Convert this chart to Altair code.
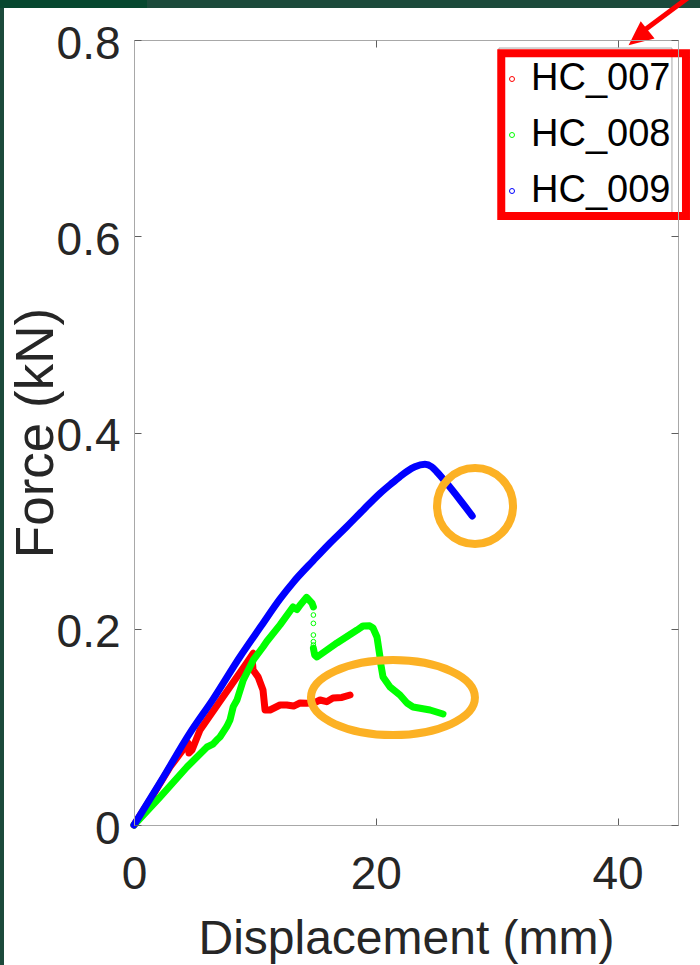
import altair as alt
import pandas as pd

# ---------------- data ----------------
SERIES = ["HC_007", "HC_008", "HC_009"]
SERIES_COLORS = ["#ff0000", "#00ff00", "#0000ff"]

hc007_disp = [0, 1.5, 2.98, 4.47, 4.55, 4.80, 5.46, 7.11, 8.21, 9.32,
              9.87, 9.80, 9.85, 10.26, 10.67, 10.84, 11.25, 12.08, 12.63, 13.20,
              13.73, 14.28, 14.90, 15.39, 15.94, 16.46, 17.20, 17.87]
hc007_force = [0, 0.029, 0.0591, 0.0836, 0.0734, 0.0764, 0.0968, 0.1262, 0.1455, 0.1650,
               0.1750, 0.165, 0.158, 0.151, 0.1376, 0.1172, 0.1172, 0.1223, 0.1223, 0.1212,
               0.1243, 0.1240, 0.1245, 0.1274, 0.1257, 0.1294, 0.1300, 0.1325]

hc008_disp_a = [0, 2.15, 4.38, 6.04, 6.53, 6.84, 7.11, 7.67, 7.94, 8.21, 8.52, 9.04,
                9.87, 10.67, 10.98, 12.08, 13.15, 13.48, 13.73, 14.28, 14.72, 14.84]
hc008_force_a = [0, 0.0285, 0.0591, 0.0795, 0.0825, 0.0866, 0.0897, 0.1002, 0.1070, 0.1206, 0.1274, 0.1478,
                 0.1682, 0.1814, 0.1870, 0.2040, 0.2222, 0.2195, 0.2240, 0.2320, 0.2262, 0.2222]
hc008_disp_gap = [14.84, 14.84, 14.84, 14.84, 14.84]
hc008_force_gap = [0.2140, 0.2055, 0.1936, 0.1868, 0.1834]
hc008_disp_b = [14.84, 14.95, 15.14, 16.79, 18.45, 18.94, 19.50, 19.77, 20.10, 20.35,
                20.40, 20.60, 21.18, 22.00, 22.58, 23.08, 24.49, 25.56]
hc008_force_b = [0.1800, 0.1732, 0.1712, 0.1855, 0.1987, 0.2028, 0.2030, 0.2008, 0.1916, 0.1712,
                 0.1651, 0.1508, 0.1406, 0.1325, 0.1243, 0.1203, 0.1172, 0.1131]

hc009_disp = [0, 2.3, 4.63, 6.53, 8.77, 10.5, 12.08, 13.18, 14.83, 16.2, 17.59, 19.0,
              20.35, 21.3, 22.0, 22.6, 23.24, 24.07, 24.62, 25.04, 25.87, 26.97, 27.98]
hc009_force = [0, 0.046, 0.0938, 0.128, 0.1715, 0.2025, 0.2305, 0.2475, 0.2695, 0.2872, 0.3040, 0.3216,
               0.3380, 0.3480, 0.3550, 0.3605, 0.3651, 0.3676, 0.3651, 0.3600, 0.3482, 0.3312, 0.3149]

X_TICKS = [0, 20, 40]
Y_TICKS = [0, 0.2, 0.4, 0.6, 0.8]

# annotation anchors (data units)
CIRCLE_AT = (28.21, 0.3251)
ELLIPSE_AT = (21.42, 0.1299)
LEGEND_BOX = (30.19, 44.50, 0.7918, 0.6227)
RED_BOX = (30.38, 45.66, 0.7865, 0.6206)
ARROW_SHAFT = (47.70, 0.8603, 42.02, 0.8081)
ARROW_HEAD = (41.70, 0.8024)

# ---------------- build tables ----------------
rows = []
def add(series, part, xs, ys):
    for x, y in zip(xs, ys):
        rows.append({"series": series, "part": part, "i": len(rows), "x": x, "y": y})

add("HC_007", "r", hc007_disp, hc007_force)
add("HC_008", "ga", hc008_disp_a, hc008_force_a)
add("HC_008", "gb", hc008_disp_b, hc008_force_b)
df = pd.DataFrame(rows)
rows = []
add("HC_009", "b", hc009_disp, hc009_force)
df_blue = pd.DataFrame(rows)
gap_df = pd.DataFrame({"x": hc008_disp_gap, "y": hc008_force_gap})

W, H = 544, 785
FONT = "Liberation Sans"
TXT = "#262626"
BOX_C = "#a8a8a8"
TICK_C = "#5e5e5e"
ORANGE = "#fcb124"

xs = alt.Scale(domain=[0, 45], nice=False, zero=False)
ys = alt.Scale(domain=[0, 0.8], nice=False, zero=False)
cs = alt.Scale(domain=SERIES, range=SERIES_COLORS)


def tick_axis(orient, vals):
    return alt.Axis(orient=orient, values=vals, offset=-7, domain=False, labels=False,
                    ticks=True, tickSize=7, tickColor=TICK_C, tickWidth=1, grid=False,
                    title=None, zindex=1)


def frame_axis(orient):
    return alt.Axis(orient=orient, domain=True, domainColor=BOX_C, domainWidth=1,
                    labels=False, ticks=False, grid=False, title=None, zindex=1)


one = pd.DataFrame({"a": [0]})

# page decoration: white sheet on dark green slide
sheet = alt.Chart(one).mark_rect(color="white").encode(
    x=alt.value(-130), x2=alt.value(566), y=alt.value(-32), y2=alt.value(925))
strip = alt.Chart(one).mark_rect(color="#07472f").encode(
    x=alt.value(-134), x2=alt.value(13), y=alt.value(-40), y2=alt.value(-32))

legend_box = alt.Chart(pd.DataFrame({"x": [LEGEND_BOX[0]], "x2": [LEGEND_BOX[1]],
                                     "y": [LEGEND_BOX[2]], "y2": [LEGEND_BOX[3]]})).mark_rect(
    fill="white", stroke=BOX_C, strokeWidth=1).encode(
    x=alt.X("x:Q", scale=xs, axis=tick_axis("bottom", X_TICKS)),
    x2="x2:Q",
    y=alt.Y("y:Q", scale=ys, axis=tick_axis("left", Y_TICKS)),
    y2="y2:Q")

lines = alt.Chart(df).mark_line(strokeWidth=7, strokeCap="round", strokeJoin="round").encode(
    x=alt.X("x:Q", scale=xs, axis=alt.Axis(
        orient="bottom", values=X_TICKS, title="Displacement (mm)", ticks=False,
        domain=True, domainColor=BOX_C, grid=False, labelFont=FONT, labelFontSize=46,
        labelColor=TXT, labelPadding=27, labelFlush=False, labelOverlap=False,
        titleFont=FONT, titleFontSize=48, titleFontWeight="normal", titleColor=TXT,
        titleY=128, titleBaseline="alphabetic", zindex=1)),
    y=alt.Y("y:Q", scale=ys, axis=alt.Axis(
        orient="left", values=Y_TICKS, format=".1~f", title="Force (kN)", ticks=False,
        domain=True, domainColor=BOX_C, grid=False, labelFont=FONT, labelFontSize=46,
        labelColor=TXT, labelPadding=14, labelOffset=4, labelFlush=False, labelOverlap=False,
        titleFont=FONT, titleFontSize=53, titleFontWeight="normal", titleColor=TXT,
        titleX=-82, titleBaseline="alphabetic", zindex=1)),
    color=alt.Color("series:N", scale=cs,
                    legend=alt.Legend(title=None, orient="none", legendX=352, legendY=13,
                                      labelFont=FONT, labelFontSize=38, labelColor="black",
                                      symbolType="circle", symbolSize=25, symbolStrokeWidth=1,
                                      symbolFillColor="white", padding=7, rowPadding=18,
                                      labelOffset=0)),
    detail="part:N",
    order="i:Q",
)

blue = alt.Chart(df_blue).mark_line(strokeWidth=7, strokeCap="round", strokeJoin="round",
                                    interpolate="monotone").encode(
    x=alt.X("x:Q", scale=xs, axis=None),
    y=alt.Y("y:Q", scale=ys, axis=None),
    color=alt.Color("series:N", scale=cs),
    order="i:Q",
)

dots = alt.Chart(gap_df).mark_point(shape="circle", filled=False, size=22, color="#00ff00",
                                    strokeWidth=1, opacity=1).encode(
    x=alt.X("x:Q", scale=xs, axis=frame_axis("top")),
    y=alt.Y("y:Q", scale=ys, axis=frame_axis("right")))

circle = alt.Chart(pd.DataFrame({"x": [CIRCLE_AT[0]], "y": [CIRCLE_AT[1]]})).mark_point(
    shape="circle", size=5776, filled=False, color=ORANGE, strokeWidth=8, opacity=1).encode(
    x=alt.X("x:Q", scale=xs, axis=None), y=alt.Y("y:Q", scale=ys, axis=None))

ellipse = alt.Chart(pd.DataFrame({"x": [ELLIPSE_AT[0]], "y": [ELLIPSE_AT[1]]})).mark_point(
    shape="M -1 0 A 1 0.457 0 1 1 1 0 A 1 0.457 0 1 1 -1 0 Z", size=26896, filled=False,
    color=ORANGE, strokeWidth=8, opacity=1).encode(
    x=alt.X("x:Q", scale=xs, axis=None), y=alt.Y("y:Q", scale=ys, axis=None))

red_box = alt.Chart(pd.DataFrame({"x": [RED_BOX[0]], "x2": [RED_BOX[1]],
                                  "y": [RED_BOX[2]], "y2": [RED_BOX[3]]})).mark_rect(
    filled=False, color="#ff0000", strokeWidth=8).encode(
    x=alt.X("x:Q", scale=xs, axis=tick_axis("top", X_TICKS)),
    x2="x2:Q",
    y=alt.Y("y:Q", scale=ys, axis=tick_axis("right", Y_TICKS)),
    y2="y2:Q")

shaft = alt.Chart(pd.DataFrame({"x": [ARROW_SHAFT[0]], "y": [ARROW_SHAFT[1]],
                                "x2": [ARROW_SHAFT[2]], "y2": [ARROW_SHAFT[3]]})).mark_rule(
    color="#ff0000", strokeWidth=5).encode(
    x=alt.X("x:Q", scale=xs, axis=None), x2="x2:Q",
    y=alt.Y("y:Q", scale=ys, axis=None), y2="y2:Q")

head = alt.Chart(pd.DataFrame({"x": [ARROW_HEAD[0]], "y": [ARROW_HEAD[1]]})).mark_point(
    shape="M 0 -1 L 0.9 1 L -0.9 1 Z", size=600, filled=True, color="#ff0000",
    angle=231, opacity=1).encode(
    x=alt.X("x:Q", scale=xs, axis=None), y=alt.Y("y:Q", scale=ys, axis=None))

chart = alt.layer(sheet, strip, legend_box, lines, blue, dots, circle, ellipse, red_box, shaft, head).resolve_axis(
    x="independent", y="independent").properties(
    width=W, height=H,
    padding={"left": 134, "top": 40, "right": 22, "bottom": 140},
    autosize=alt.AutoSizeParams(type="none"),
    background="#1c4a3b",
).configure_view(stroke="transparent")

chart.save("out.html", embed_options={"renderer": "svg", "actions": False})
